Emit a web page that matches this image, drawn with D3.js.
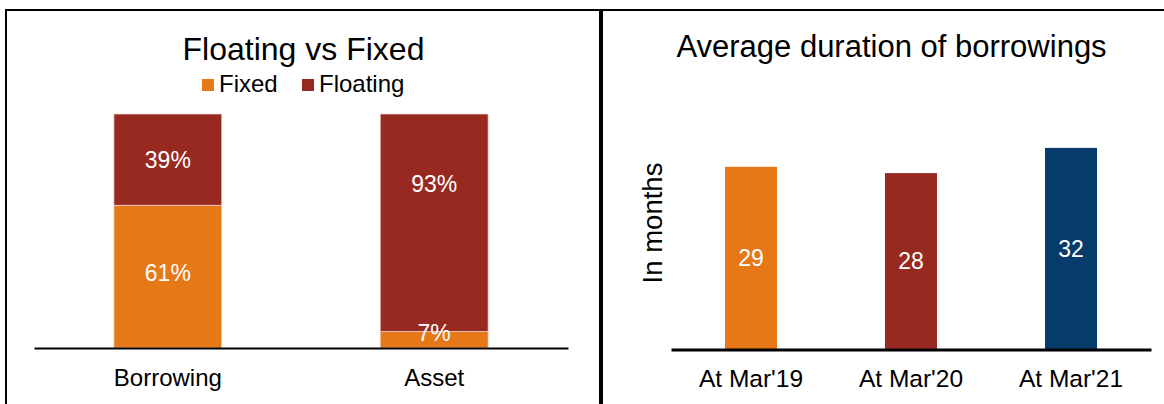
<!DOCTYPE html>
<html>
<head>
<meta charset="utf-8">
<script src="https://cdn.jsdelivr.net/npm/d3@7"></script>
<style>
  body { margin: 0; background: #fff; }
  svg text { font-family: "Liberation Sans", Arial, sans-serif; }
</style>
</head>
<body>
<div id="chart"></div>
<script>
// left chart: floating vs fixed split
const mixCategories = ["Borrowing", "Asset"];
const mixSeries = ["Fixed", "Floating"];
const fixedPct = [61, 7];
const floatingPct = [39, 93];

// right chart: average duration
const periods = ["At Mar'19", "At Mar'20", "At Mar'21"];
const durationMonths = [29, 28, 32];

const colors = { Fixed: "#E77818", Floating: "#982920" };
const durationColors = ["#E77818", "#982920", "#073B6B"];

// labels in the source were not all centred in their segment
const labelNudge = { "Borrowing-Fixed": -4, "Asset-Fixed": -7, "Asset-Floating": -39 };

const svg = d3.select("#chart")
	.append("svg")
	.attr("width", 1164)
	.attr("height", 404);

// panel frames
svg.append("rect")
	.attr("x", 6).attr("y", 10)
	.attr("width", 594).attr("height", 420)
	.attr("fill", "none").attr("stroke", "#000").attr("stroke-width", 2);
svg.append("rect")
	.attr("x", 602).attr("y", 10)
	.attr("width", 600).attr("height", 420)
	.attr("fill", "none").attr("stroke", "#000").attr("stroke-width", 2);

// ---------- left: stacked bars ----------
const stackData = mixCategories.map((c, i) => ({ category: c, Fixed: fixedPct[i], Floating: floatingPct[i] }));
const stacked = d3.stack().keys(mixSeries)(stackData);

const x_left = d3.scaleBand().domain(mixCategories).range([34, 568])
	.paddingInner(0.595).paddingOuter(0.3);
const y_left = d3.scaleLinear().domain([0, 100]).range([348, 114]);

const left = svg.append("g");

left.selectAll("g.layer")
	.data(stacked)
	.join("g")
	.attr("class", "layer")
	.attr("fill", d => colors[d.key])
	.selectAll("rect")
	.data(d => d)
	.join("rect")
	.attr("x", d => x_left(d.data.category))
	.attr("y", d => y_left(d[1]))
	.attr("width", x_left.bandwidth())
	.attr("height", d => y_left(d[0]) - y_left(d[1]))
	.attr("stroke", "#f2d6d0")
	.attr("stroke-width", 0.75);

stacked.forEach(layer => {
	left.selectAll(null)
		.data(layer)
		.join("text")
		.attr("x", d => x_left(d.data.category) + x_left.bandwidth() / 2)
		.attr("y", d => (y_left(d[0]) + y_left(d[1])) / 2 + (labelNudge[d.data.category + "-" + layer.key] || 0))
		.attr("dy", "0.35em")
		.attr("text-anchor", "middle")
		.attr("fill", "#fff")
		.attr("font-size", 23)
		.text(d => (d[1] - d[0]) + "%");
});

const x_axis_left = d3.axisBottom(x_left).tickSize(0).tickSizeOuter(0).tickPadding(21);
left.append("g")
	.attr("transform", "translate(0,348)")
	.call(x_axis_left)
	.call(g => g.select(".domain").attr("stroke", "#000").attr("stroke-width", 2))
	.call(g => g.selectAll("text").attr("font-size", 24).attr("fill", "#000")
		.style("font-family", "'Liberation Sans', Arial, sans-serif"));

left.append("text")
	.attr("x", 303.5).attr("y", 60)
	.attr("text-anchor", "middle")
	.attr("font-size", 32)
	.text("Floating vs Fixed");

const legendX = [202, 302];
mixSeries.forEach((s, i) => {
	left.append("rect")
		.attr("x", legendX[i]).attr("y", 79)
		.attr("width", 12).attr("height", 12)
		.attr("fill", colors[s]);
	left.append("text")
		.attr("x", legendX[i] + 17).attr("y", 92)
		.attr("font-size", 24)
		.text(s);
});

// ---------- right: duration bars ----------
const x_right = d3.scaleBand().domain(periods).range([671, 1151])
	.paddingInner(0.675).paddingOuter(0.3375);
const y_right = d3.scaleLinear().domain([0, 40]).range([349.5, 97.5]);

const right = svg.append("g");

right.selectAll("rect.bar")
	.data(durationMonths)
	.join("rect")
	.attr("class", "bar")
	.attr("x", (d, i) => x_right(periods[i]))
	.attr("y", d => y_right(d))
	.attr("width", x_right.bandwidth())
	.attr("height", d => y_right(0) - y_right(d))
	.attr("fill", (d, i) => durationColors[i]);

right.selectAll("text.val")
	.data(durationMonths)
	.join("text")
	.attr("class", "val")
	.attr("x", (d, i) => x_right(periods[i]) + x_right.bandwidth() / 2)
	.attr("y", d => (y_right(d) + y_right(0)) / 2)
	.attr("dy", "0.35em")
	.attr("text-anchor", "middle")
	.attr("fill", "#fff")
	.attr("font-size", 23)
	.text(d => d);

const x_axis_right = d3.axisBottom(x_right).tickSize(0).tickSizeOuter(0).tickPadding(20);
right.append("g")
	.attr("transform", "translate(0,349.5)")
	.call(x_axis_right)
	.call(g => g.select(".domain").attr("stroke", "#000").attr("stroke-width", 3))
	.call(g => g.selectAll("text").attr("font-size", 24.5).attr("fill", "#000")
		.style("font-family", "'Liberation Sans', Arial, sans-serif"));

right.append("text")
	.attr("x", 891.5).attr("y", 57)
	.attr("text-anchor", "middle")
	.attr("font-size", 31)
	.text("Average duration of borrowings");

right.append("text")
	.attr("transform", "translate(662,223) rotate(-90)")
	.attr("text-anchor", "middle")
	.attr("font-size", 27.5)
	.text("In months");
</script>
</body>
</html>
